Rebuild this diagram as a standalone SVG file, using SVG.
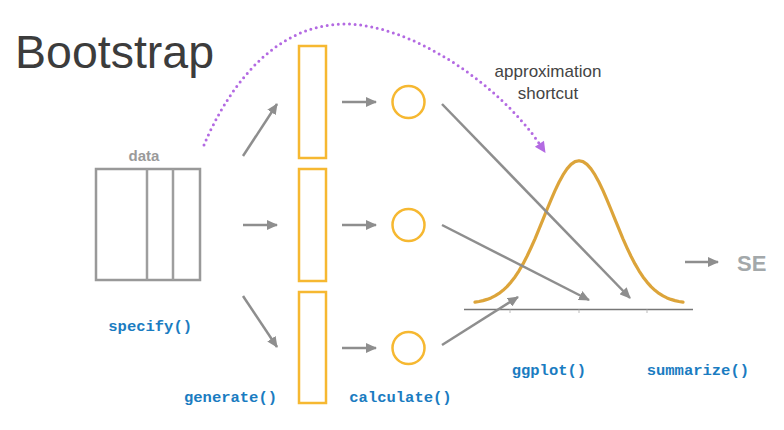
<svg xmlns="http://www.w3.org/2000/svg" width="784" height="430" viewBox="0 0 784 430">
<style>
.code{font-family:"Liberation Mono","DejaVu Sans Mono",monospace;font-weight:bold;font-size:15.5px;fill:#1a7cc1}
.gray{stroke:#8e8e8e;stroke-width:2.5;fill:none}
.samp{fill:none;stroke:#f6b831;stroke-width:2.5}
.sans{font-family:"Liberation Sans",Arial,sans-serif}
</style>
<defs>
<marker id="ah" markerUnits="userSpaceOnUse" markerWidth="12" markerHeight="10" refX="10" refY="5" orient="auto">
<path d="M0,0 L11,5 L0,10 z" fill="#8e8e8e"/>
</marker>
</defs>
<rect width="784" height="430" fill="#ffffff"/>
<text class="sans" x="15" y="68" font-size="46.5" fill="#3c3c3c">Bootstrap</text>

<g id="data">
<text class="sans" x="144" y="160.5" font-size="15" font-weight="bold" fill="#9a9a9a" text-anchor="middle">data</text>
<rect x="96" y="169" width="104" height="111" fill="none" stroke="#999" stroke-width="2.5"/>
<line x1="147" y1="169" x2="147" y2="280" stroke="#9e9e9e" stroke-width="2.5"/>
<line x1="173" y1="169" x2="173" y2="280" stroke="#9e9e9e" stroke-width="2.5"/>
</g>
<g id="sample1"><rect class="samp" x="299" y="46" width="27" height="112"/></g>
<g id="sample2"><rect class="samp" x="299" y="169" width="27" height="112"/></g>
<g id="sample3"><rect class="samp" x="299" y="292" width="27" height="111"/></g>
<g id="stat1"><circle class="samp" cx="408.5" cy="102" r="16"/></g>
<g id="stat2"><circle class="samp" cx="408.5" cy="225" r="16"/></g>
<g id="stat3"><circle class="samp" cx="408.5" cy="348" r="16"/></g>

<g id="distribution">
<line x1="464" y1="309.5" x2="693" y2="309.5" stroke="#777" stroke-width="1.3"/>
<g stroke="#bbb" stroke-width="1"><line x1="510" y1="309.5" x2="510" y2="313"/><line x1="579" y1="309.5" x2="579" y2="313"/><line x1="647" y1="309.5" x2="647" y2="313"/></g>
<polyline fill="none" stroke="#dca43a" stroke-width="3.2" stroke-linejoin="round" stroke-linecap="round" points="475,302.2 479,301.5 483,300.6 487,299.4 491,297.9 495,295.9 499,293.4 503,290.3 507,286.6 511,282.1 515,276.9 519,270.8 523,263.9 527,256.3 531,247.8 535,238.8 539,229.2 543,219.4 547,209.5 551,199.8 555,190.6 559,182.2 563,174.9 567,168.9 571,164.4 575,161.6 579,160.7 583,161.6 587,164.4 591,168.9 595,174.9 599,182.2 603,190.6 607,199.8 611,209.5 615,219.4 619,229.2 623,238.8 627,247.8 631,256.3 635,263.9 639,270.8 643,276.9 647,282.1 651,286.6 655,290.3 659,293.4 663,295.9 667,297.9 671,299.4 675,300.6 679,301.5 683,302.2"/>
</g>

<g id="se"><text class="sans" x="737" y="271" font-size="22" font-weight="bold" fill="#a3a8aa">SE</text></g>

<g id="shortcut-label">
<text class="sans" x="548" y="77" font-size="17" fill="#444" text-anchor="middle">approximation</text>
<text class="sans" x="548" y="99" font-size="17" fill="#444" text-anchor="middle">shortcut</text>
</g>

<g id="labels">
<text class="code" x="108.3" y="331">specify()</text>
<text class="code" x="184" y="402">generate()</text>
<text class="code" x="349.3" y="402">calculate()</text>
<text class="code" x="511.7" y="374.5">ggplot()</text>
<text class="code" x="646.7" y="374.5">summarize()</text>
</g>

<g id="connectors">
<line class="gray" x1="243" y1="156" x2="277" y2="104" marker-end="url(#ah)"/>
<line class="gray" x1="243" y1="225" x2="277" y2="225" marker-end="url(#ah)"/>
<line class="gray" x1="243" y1="296" x2="277" y2="347" marker-end="url(#ah)"/>
<line class="gray" x1="342" y1="102" x2="376" y2="102" marker-end="url(#ah)"/>
<line class="gray" x1="342" y1="225" x2="376" y2="225" marker-end="url(#ah)"/>
<line class="gray" x1="342" y1="348" x2="376" y2="348" marker-end="url(#ah)"/>
<line class="gray" x1="442" y1="104" x2="630" y2="298" marker-end="url(#ah)"/>
<line class="gray" x1="442" y1="225" x2="589" y2="300" marker-end="url(#ah)"/>
<line class="gray" x1="442" y1="345" x2="518" y2="297" marker-end="url(#ah)"/>
<line class="gray" x1="685" y1="262" x2="718" y2="262" marker-end="url(#ah)"/>
<path d="M204,145 C225,95 270,24 345,24 C410,24 498,83 539.5,143.8" fill="none" stroke="#b36ae2" stroke-width="3" stroke-linecap="round" stroke-dasharray="0 5.6"/>
<polygon points="545.5,153 544,140.8 534.9,146.8" fill="#b36ae2"/>
</g>
</svg>
